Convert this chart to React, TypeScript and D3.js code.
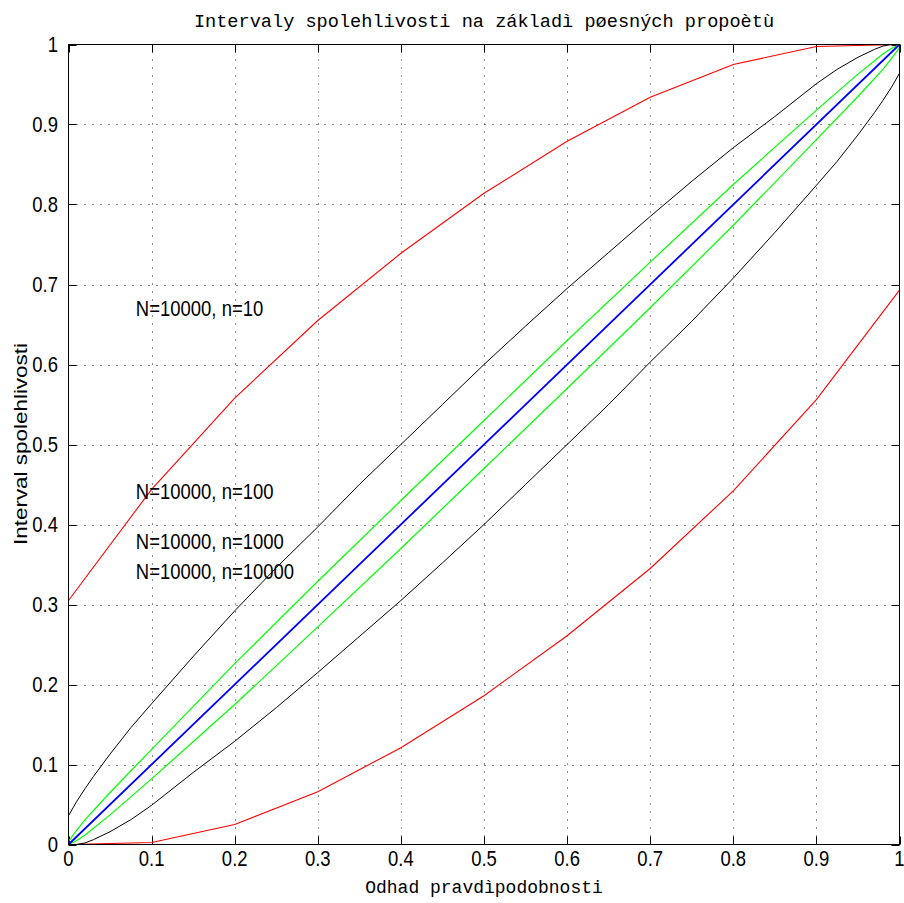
import React from "react";
import * as d3 from "d3";

const W = 904;
const H = 903;

const title = "Intervaly spolehlivosti na základì pøesných propoètù";
const xLabel = "Odhad pravdìpodobnosti";
const yLabel = "Interval spolehlivosti";

const ticks = [0, 0.1, 0.2, 0.3, 0.4, 0.5, 0.6, 0.7, 0.8, 0.9, 1];
const tickLabels = ["0", "0.1", "0.2", "0.3", "0.4", "0.5", "0.6", "0.7", "0.8", "0.9", "1"];

// n = 10 (red)
const pRed = [0, 0.1, 0.2, 0.3, 0.4, 0.5, 0.6, 0.7, 0.8, 0.9, 1];
const redUpper = [0.305, 0.444, 0.558, 0.655, 0.739, 0.814, 0.879, 0.934, 0.975, 0.9975, 1];
const redLower = [0, 0.0025, 0.025, 0.066, 0.121, 0.186, 0.261, 0.345, 0.442, 0.556, 0.693];

// n = 100 (black)
const pBlack = [0, 0.01, 0.02, 0.03, 0.05, 0.075, 0.1, 0.15, 0.2, 0.25, 0.3, 0.35, 0.4, 0.45, 0.5, 0.55, 0.6, 0.65, 0.7, 0.75, 0.8, 0.85, 0.9, 0.925, 0.95, 0.97, 0.98, 0.99, 1];
const blackUpper = [0.036, 0.054, 0.07, 0.085, 0.113, 0.146, 0.176, 0.235, 0.292, 0.346, 0.397, 0.45, 0.5, 0.55, 0.6, 0.648, 0.695, 0.74, 0.785, 0.829, 0.871, 0.91, 0.951, 0.969, 0.984, 0.994, 0.998, 1, 1];
const blackLower = [0, 0, 0.002, 0.006, 0.016, 0.031, 0.049, 0.09, 0.129, 0.171, 0.215, 0.26, 0.305, 0.352, 0.4, 0.45, 0.5, 0.55, 0.603, 0.654, 0.708, 0.765, 0.824, 0.854, 0.887, 0.915, 0.93, 0.946, 0.964];

// n = 1000 (green)
const pGreen = [0, 0.01, 0.02, 0.05, 0.1, 0.2, 0.3, 0.4, 0.5, 0.6, 0.7, 0.8, 0.9, 0.95, 0.98, 0.99, 1];
const greenUpper = [0.004, 0.018, 0.031, 0.065, 0.119, 0.226, 0.329, 0.43, 0.53, 0.63, 0.728, 0.825, 0.918, 0.963, 0.988, 0.995, 1];
const greenLower = [0, 0.005, 0.012, 0.037, 0.082, 0.175, 0.272, 0.37, 0.47, 0.57, 0.671, 0.774, 0.881, 0.935, 0.969, 0.982, 0.996];

// n = 10000 (blue)
const pBlue = [0, 1];
const blueValues = [0, 1];

const labelTexts = ["N=10000, n=10", "N=10000, n=100", "N=10000, n=1000", "N=10000, n=10000"];
const labelX = [0.081, 0.081, 0.081, 0.081];
const labelY = [0.661, 0.432, 0.369, 0.332];

const X0 = 68.5, X1 = 899.5, Y0 = 844.5, Y1 = 44.5;

export default function App() {
  const x = d3.scaleLinear().domain([0, 1]).range([X0, X1]);
  const y = d3.scaleLinear().domain([0, 1]).range([Y0, Y1]);
  const line = (ps: number[], vs: number[]) =>
    d3.line<number>().x((_, i) => x(ps[i])).y((v) => y(v))(vs) || "";

  const series = [
    { p: pRed, v: redUpper, c: "#ff0000", w: 1.1 },
    { p: pRed, v: redLower, c: "#ff0000", w: 1.1 },
    { p: pBlack, v: blackUpper, c: "#000000", w: 1 },
    { p: pBlack, v: blackLower, c: "#000000", w: 1 },
    { p: pGreen, v: greenUpper, c: "#00ff00", w: 1.2 },
    { p: pGreen, v: greenLower, c: "#00ff00", w: 1.2 },
    { p: pBlue, v: blueValues, c: "#0000ff", w: 1.8 },
  ];
  const tickFont = "'Liberation Sans', Arial, sans-serif";
  const sx = 0.86;

  return (
    <div style={{ position: "absolute", left: 0, top: 0, width: W, height: H, background: "#fff" }}>
      <svg width={W} height={H} style={{ display: "block" }}>
        <rect x={0} y={0} width={W} height={H} fill="#fff" />
        {/* grid */}
        <g stroke="#222" strokeWidth={1} strokeDasharray="1,7">
          {ticks.slice(1, -1).map((t, i) => (
            <line key={"gx" + i} x1={Math.round(x(t)) + 0.5} x2={Math.round(x(t)) + 0.5} y1={Y0} y2={Y1} />
          ))}
          {ticks.slice(1, -1).map((t, i) => (
            <line key={"gy" + i} y1={Math.round(y(t)) + 0.5} y2={Math.round(y(t)) + 0.5} x1={X0} x2={X1} />
          ))}
        </g>
        {/* ticks */}
        <g stroke="#000" strokeWidth={1}>
          {ticks.map((t, i) => {
            const xx = Math.round(x(t)) + 0.5;
            const yy = Math.round(y(t)) + 0.5;
            return (
              <g key={"t" + i}>
                <line x1={xx} x2={xx} y1={Y0} y2={Y0 - 8} />
                <line x1={xx} x2={xx} y1={Y1} y2={Y1 + 8} />
                <line y1={yy} y2={yy} x1={X0} x2={X0 + 8} />
                <line y1={yy} y2={yy} x1={X1} x2={X1 - 8} />
              </g>
            );
          })}
        </g>
        {/* data */}
        <g fill="none">
          {series.map((s, i) => (
            <path key={"s" + i} d={line(s.p, s.v)} stroke={s.c} strokeWidth={s.w} />
          ))}
        </g>
        {/* box */}
        <rect x={X0} y={Y1} width={X1 - X0} height={Y0 - Y1} fill="none" stroke="#000" strokeWidth={1} />
        {/* tick labels */}
        <g fontFamily={tickFont} fontSize={21.5} fill="#000">
          {ticks.map((t, i) => (
            <text key={"xl" + i} transform={`translate(${x(t)},${866}) scale(${sx},1)`} textAnchor="middle">
              {tickLabels[i]}
            </text>
          ))}
          {ticks.map((t, i) => (
            <text key={"yl" + i} transform={`translate(${58},${y(t) + 7.5}) scale(${sx},1)`} textAnchor="end">
              {tickLabels[i]}
            </text>
          ))}
        </g>
        {/* annotations */}
        <g fontFamily={tickFont} fontSize={21.5} fill="#000">
          {labelTexts.map((t, i) => (
            <text key={"a" + i} transform={`translate(${x(labelX[i])},${y(labelY[i])}) scale(${sx},1)`}>
              {t}
            </text>
          ))}
        </g>
        {/* title and axis labels */}
        <text x={(X0 + X1) / 2} y={27} textAnchor="middle" fontFamily="'Liberation Mono', 'Courier New', monospace" fontSize={18.6} fill="#000">
          {title}
        </text>
        <text x={(X0 + X1) / 2} y={893} textAnchor="middle" fontFamily="'Liberation Mono', 'Courier New', monospace" fontSize={18} fill="#000">
          {xLabel}
        </text>
        <text
          transform={`translate(${27},${444}) rotate(-90)`}
          textAnchor="middle"
          fontFamily={tickFont}
          fontSize={19}
          textLength={202}
          lengthAdjust="spacingAndGlyphs"
          fill="#000"
        >
          {yLabel}
        </text>
      </svg>
    </div>
  );
}
